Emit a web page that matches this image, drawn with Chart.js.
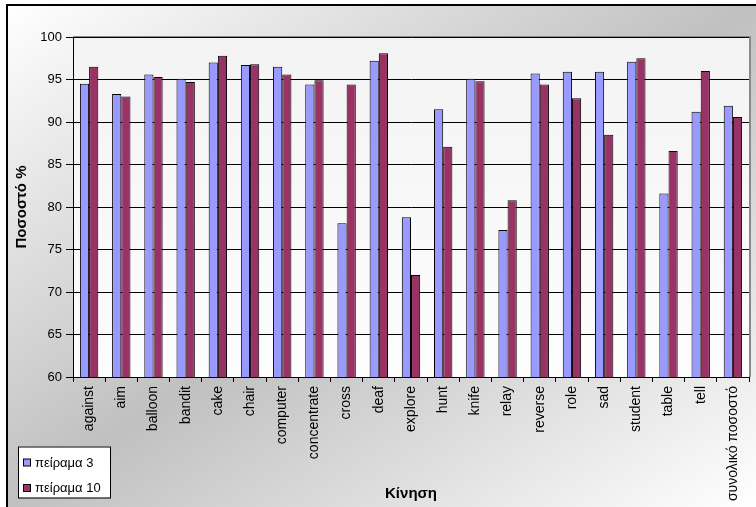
<!DOCTYPE html>
<html>
<head>
<meta charset="utf-8">
<script src="https://cdn.jsdelivr.net/npm/chart.js@4/dist/chart.umd.min.js"></script>
<style>
  html, body { margin: 0; padding: 0; background: #fff; }
  canvas { display: block; }
</style>
</head>
<body>
<canvas id="c" width="756" height="507"></canvas>
<script>
// Recognition rate per movement word, two experiments
const categories = ['against', 'aim', 'balloon', 'bandit', 'cake', 'chair', 'computer',
  'concentrate', 'cross', 'deaf', 'explore', 'hunt', 'knife', 'relay', 'reverse',
  'role', 'sad', 'student', 'table', 'tell', 'συνολικό ποσοστό'];

const experiment3 = [94.5, 93.3, 95.6, 95.1, 97.0, 96.7, 96.5, 94.4, 78.1, 97.2,
  78.8, 91.5, 95.1, 77.3, 95.7, 95.9, 95.9, 97.1, 81.6, 91.2, 91.9];
const experiment10 = [96.5, 93.0, 95.3, 94.7, 97.8, 96.8, 95.6, 94.9, 94.4, 98.1,
  72.0, 87.1, 94.8, 80.8, 94.4, 92.8, 88.5, 97.5, 86.6, 96.0, 90.6];

const seriesNames = ['πείραμα 3', 'πείραμα 10'];
const yTicks = [60, 65, 70, 75, 80, 85, 90, 95, 100];

const FONT = '"Liberation Sans", Arial, sans-serif';

// Frame, gradient backdrop and plot-area panel
const backdrop = {
  id: 'backdrop',
  beforeDraw(chart) {
    const { ctx, chartArea: a, width: W, height: H } = chart;
    ctx.save();
    ctx.fillStyle = '#ffffff';
    ctx.fillRect(0, 0, W, H);
    const x0 = 7, y0 = 5, w = W - x0, h = H - y0;
    const k = 2 * w * h / (w * w + h * h);
    const g = ctx.createLinearGradient(x0, y0, x0 + h * k, y0 + w * k);
    g.addColorStop(0, '#ffffff');
    g.addColorStop(0.5, '#c0c0c0');
    g.addColorStop(1, '#ffffff');
    ctx.fillStyle = g;
    ctx.fillRect(x0, y0, w, h);
    ctx.fillStyle = '#000';
    ctx.fillRect(x0 - 1, y0 - 1, w + 1, 2);
    ctx.fillRect(x0 - 1, y0 - 1, 2, h + 1);

    // plot panel
    const pg = ctx.createLinearGradient(0, a.top, 0, a.bottom);
    pg.addColorStop(0, '#f3f3f3');
    pg.addColorStop(1, '#fdfdfd');
    ctx.fillStyle = pg;
    ctx.fillRect(a.left, a.top, a.right - a.left, a.bottom - a.top);
    ctx.fillStyle = '#8a8a8a';
    ctx.fillRect(a.left, a.top - 1, a.right - a.left + 2, 1.5);
    ctx.fillRect(a.right, a.top - 1, 2, a.bottom - a.top + 1);
    ctx.restore();
  }
};

// Boxed legend in the lower-left corner
const boxLegend = {
  id: 'boxLegend',
  afterDraw(chart) {
    const { ctx } = chart;
    const bx = 18, by = 446.5, bw = 92, bh = 51;
    ctx.save();
    ctx.fillStyle = '#ffffff';
    ctx.fillRect(bx, by, bw, bh);
    ctx.strokeStyle = '#000';
    ctx.lineWidth = 1;
    ctx.strokeRect(bx + 0.5, by + 0.5, bw, bh);
    ctx.font = '13px ' + FONT;
    ctx.textBaseline = 'middle';
    ctx.textAlign = 'left';
    const rows = [462.5, 488];
    chart.data.datasets.forEach((ds, i) => {
      const cy = rows[i];
      ctx.fillStyle = ds.backgroundColor;
      ctx.fillRect(23.5, cy - 3.5, 7, 7);
      ctx.strokeStyle = '#000';
      ctx.strokeRect(23.5, cy - 3.5, 7, 7);
      ctx.fillStyle = '#000';
      ctx.fillText(ds.label, 35, cy + 0.5);
    });
    ctx.restore();
  }
};

new Chart(document.getElementById('c'), {
  type: 'bar',
  data: {
    labels: categories,
    datasets: [
      { label: seriesNames[0], data: experiment3, backgroundColor: '#9999ff',
        borderColor: '#000', borderWidth: 1 },
      { label: seriesNames[1], data: experiment10, backgroundColor: '#993366',
        borderColor: '#000', borderWidth: 1 }
    ]
  },
  options: {
    responsive: false,
    animation: false,
    devicePixelRatio: 1,
    layout: { padding: { top: 37, right: 7, left: 0, bottom: 0 } },
    datasets: { bar: { categoryPercentage: 0.571, barPercentage: 1.0 } },
    plugins: { legend: { display: false }, tooltip: { enabled: false } },
    scales: {
      x: {
        afterFit(s) { s.height = 130; },
        grid: { display: true, drawOnChartArea: false, drawTicks: true, tickLength: 5,
          color: '#000', offset: true },
        border: { display: true, color: '#000', width: 1 },
        ticks: { autoSkip: false, minRotation: 90, maxRotation: 90, padding: 4,
          color: '#000', font: { family: FONT, size: 14 } },
        title: { display: true, text: 'Κίνηση', color: '#000',
          padding: { top: 0, bottom: 4 },
          font: { family: FONT, size: 15, weight: 'bold' } }
      },
      y: {
        min: 60, max: 100,
        afterFit(s) { s.width = 73; },
        afterBuildTicks(s) { s.ticks = yTicks.map(v => ({ value: v })); },
        grid: { color: '#000', lineWidth: 1, tickLength: 7, drawTicks: true },
        border: { display: true, color: '#000', width: 1 },
        ticks: { padding: 4, color: '#000', font: { family: FONT, size: 13 } },
        title: { display: true, text: 'Ποσοστό %', color: '#000',
          padding: { top: 13, bottom: 0 },
          font: { family: FONT, size: 15, weight: 'bold' } }
      }
    }
  },
  plugins: [backdrop, boxLegend]
});
</script>
</body>
</html>
